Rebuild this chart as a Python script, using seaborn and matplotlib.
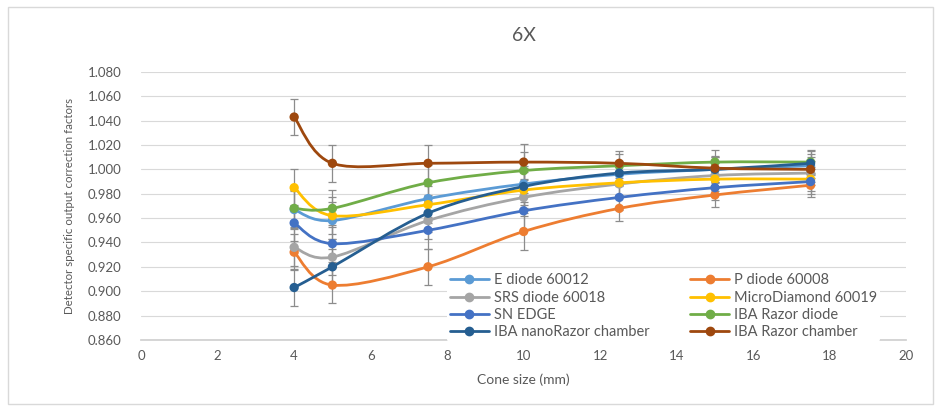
import numpy as np
import pandas as pd
import matplotlib
matplotlib.use("Agg")
import matplotlib.pyplot as plt
from matplotlib.path import Path
from matplotlib.patches import PathPatch, Rectangle
from matplotlib.lines import Line2D
import seaborn as sns

sns.set_theme(style="white")
plt.rcParams['font.family'] = ['Lato', 'DejaVu Sans']

# cone sizes (mm)
cone = [4, 5, 7.5, 10, 12.5, 15, 17.5]
err = [0.015, 0.015, 0.015, 0.015, 0.010, 0.010, 0.010]

detectors = ["E diode 60012", "P diode 60008", "SRS diode 60018", "MicroDiamond 60019",
             "SN EDGE", "IBA Razor diode", "IBA nanoRazor chamber", "IBA Razor chamber"]

e_diode = [0.967, 0.958, 0.976, 0.988, 0.996, 1.000, 1.003]
p_diode = [0.932, 0.905, 0.920, 0.949, 0.968, 0.979, 0.987]
srs_diode = [0.936, 0.928, 0.958, 0.977, 0.988, 0.995, 0.997]
micro_diamond = [0.985, 0.962, 0.971, 0.983, 0.989, 0.992, 0.992]
sn_edge = [0.956, 0.939, 0.950, 0.966, 0.977, 0.985, 0.990]
razor_diode = [0.968, 0.968, 0.989, 0.999, 1.003, 1.006, 1.006]
nano_razor = [0.903, 0.920, 0.964, 0.986, 0.997, 1.000, 1.005]
razor_chamber = [1.043, 1.005, 1.005, 1.006, 1.005, 1.001, 1.000]

series = [e_diode, p_diode, srs_diode, micro_diamond, sn_edge, razor_diode, nano_razor, razor_chamber]
colors = ["#5B9BD5", "#ED7D31", "#A5A5A5", "#FFC000", "#4472C4", "#70AD47", "#255E91", "#9E480E"]

rows = []
for name, vals in zip(detectors, series):
    for x, v, e in zip(cone, vals, err):
        rows.append({"cone": x, "factor": v, "err": e, "detector": name})
df = pd.DataFrame(rows)


def smooth_path(xs, ys):
    # Excel-like smoothed line as Catmull-Rom Bezier segments
    pts = np.column_stack([xs, ys]).astype(float)
    n = len(pts)
    verts = [pts[0]]
    codes = [Path.MOVETO]
    for i in range(n - 1):
        p0 = pts[i - 1] if i > 0 else pts[i]
        p1, p2 = pts[i], pts[i + 1]
        p3 = pts[i + 2] if i + 2 < n else pts[i + 1]
        c1 = p1 + (p2 - p0) / 6.0
        c2 = p2 - (p3 - p1) / 6.0
        verts += [c1, c2, p2]
        codes += [Path.CURVE4] * 3
    return Path(verts, codes)


fig, ax = plt.subplots(figsize=(9.41, 4.09), dpi=100)
fig.subplots_adjust(left=0.150, right=0.963, top=0.824, bottom=0.169)

# error bars
for name in detectors:
    d = df[df["detector"] == name]
    ax.errorbar(d["cone"], d["factor"], yerr=d["err"], fmt="none",
                ecolor="#8c8c8c", elinewidth=0.9, capsize=3, capthick=0.9, zorder=2)

# smoothed lines
for name, col in zip(detectors, colors):
    d = df[df["detector"] == name]
    ax.add_patch(PathPatch(smooth_path(d["cone"].values, d["factor"].values),
                           facecolor="none", edgecolor=col, lw=2, zorder=3))

# markers
sns.scatterplot(data=df, x="cone", y="factor", hue="detector", palette=colors,
                hue_order=detectors, s=45, edgecolor="none", legend=False, ax=ax, zorder=4)

ax.set_xlim(0, 20)
ax.set_ylim(0.860, 1.080)
ax.set_xticks(np.arange(0, 21, 2))
yt = np.arange(0.860, 1.0801, 0.020)
ax.set_yticks(yt)
ax.set_yticklabels([f"{v:.3f}" for v in yt])
ax.tick_params(axis="both", labelsize=9.5, colors="#595959", length=0)
ax.tick_params(axis="y", pad=14)
ax.tick_params(axis="x", length=4, color="#d0d0d0", direction="out")
ax.yaxis.grid(True, color="#d9d9d9", lw=0.8)
ax.xaxis.grid(False)
for s in ["top", "right", "left"]:
    ax.spines[s].set_visible(False)
ax.spines["bottom"].set_color("#d0d0d0")

ax.set_xlabel("Cone size (mm)", fontsize=10, color="#595959", labelpad=8)
ax.set_ylabel("Detector specific output correction factors", fontsize=8.3,
              color="#595959", labelpad=9)
ax.set_title("6X", fontsize=14, color="#595959", pad=22)

# legend filled row by row, like the original
order = [0, 2, 4, 6, 1, 3, 5, 7]
handles = [Line2D([0], [0], color=colors[i], lw=2, marker="o", markersize=6) for i in order]
labels = [detectors[i] for i in order]
leg = ax.legend(handles, labels, ncol=2, loc="lower right", bbox_to_anchor=(0.975, -0.035),
                frameon=True, facecolor="white", edgecolor="none", framealpha=1,
                fontsize=10.5, labelcolor="#595959", columnspacing=2.8, handlelength=2.7,
                handletextpad=0.3, labelspacing=0.22, borderpad=0.2)
leg.set_zorder(5)

fig.patches.append(Rectangle((0.008, 0.012), 0.984, 0.97, transform=fig.transFigure,
                             fill=False, edgecolor="#d9d9d9", lw=1))

fig.savefig("out.png", dpi=100)
